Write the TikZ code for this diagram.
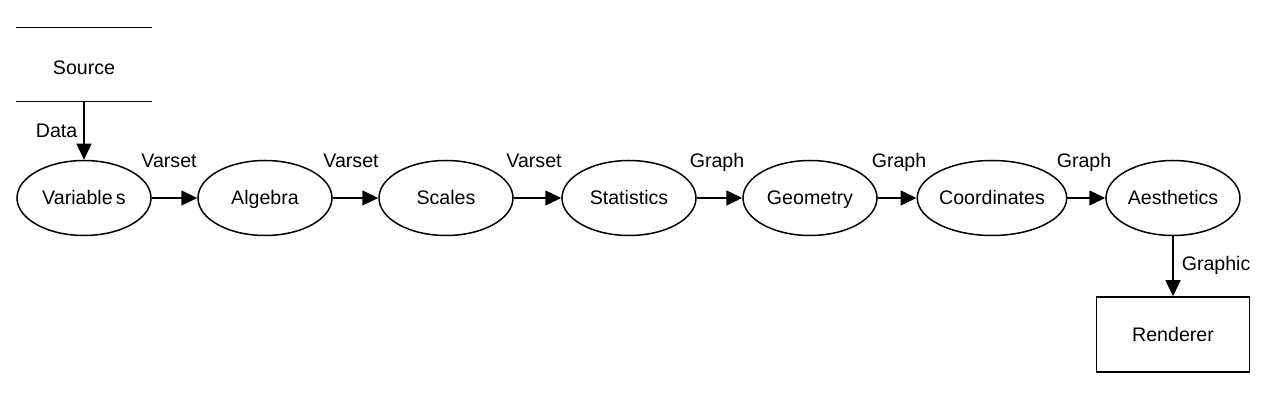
\documentclass[tikz,border=0pt]{standalone}
\usepackage{fontspec}
\setmainfont{Liberation Sans}
\usetikzlibrary{shapes.geometric,arrows.meta}
\tikzset{
  every node/.style={font=\fontsize{9.8}{11}\selectfont,text height=7pt,text depth=0pt},
  stage/.style={ellipse,draw,line width=0.75pt,minimum width=67pt,minimum height=37.5pt,inner sep=0pt},
  lbl/.style={inner sep=0pt},
  flow/.style={line width=0.75pt,-{Triangle[length=8pt,width=7.5pt]}}
}
\begin{document}
\begin{tikzpicture}[x=0.5pt,y=-0.5pt]
\useasboundingbox (0,0) rectangle (1280,400);
% source (data store)
\node[lbl,minimum width=68pt,minimum height=36.5pt] (src) at (84,64.5) {};
\node[lbl] (srct) at (84,67.5) {Source};
\draw[line width=0.75pt] (src.north west) -- (src.north east);
\draw[line width=0.75pt] (src.south west) -- (src.south east);
% stages
\node[stage] (var) at (84,198) {Variable\,s};
\node[stage] (alg) at (265,198) {Algebra};
\node[stage] (sca) at (446,198) {Scales};
\node[stage] (sta) at (629,198) {Statistics};
\node[stage] (geo) at (810,198) {Geometry};
\node[stage] (coo) at (992,198) {Coordinates};
\node[stage] (aes) at (1173,198) {Aesthetics};
\node[draw,line width=0.75pt,minimum width=76.5pt,minimum height=37.5pt] (ren) at (1173,334.5) {Renderer};
% connectors
\draw[flow] (src.south) -- (var.north) node[lbl,pos=0.5,left=3pt] {Data};
\draw[flow] (var) -- (alg);
\draw[flow] (alg) -- (sca);
\draw[flow] (sca) -- (sta);
\draw[flow] (sta) -- (geo);
\draw[flow] (geo) -- (coo);
\draw[flow] (coo) -- (aes);
\draw[flow] (aes) -- (ren) node[lbl,pos=0.45,right=4pt] {Graphic};
% edge labels
\node[lbl] (l1) at (169,161) {Varset};
\node[lbl] (l2) at (351,161) {Varset};
\node[lbl] (l3) at (534,161) {Varset};
\node[lbl] (l4) at (717,161) {Graph};
\node[lbl] (l5) at (899,161) {Graph};
\node[lbl] (l6) at (1084,161) {Graph};
\end{tikzpicture}
\end{document}
